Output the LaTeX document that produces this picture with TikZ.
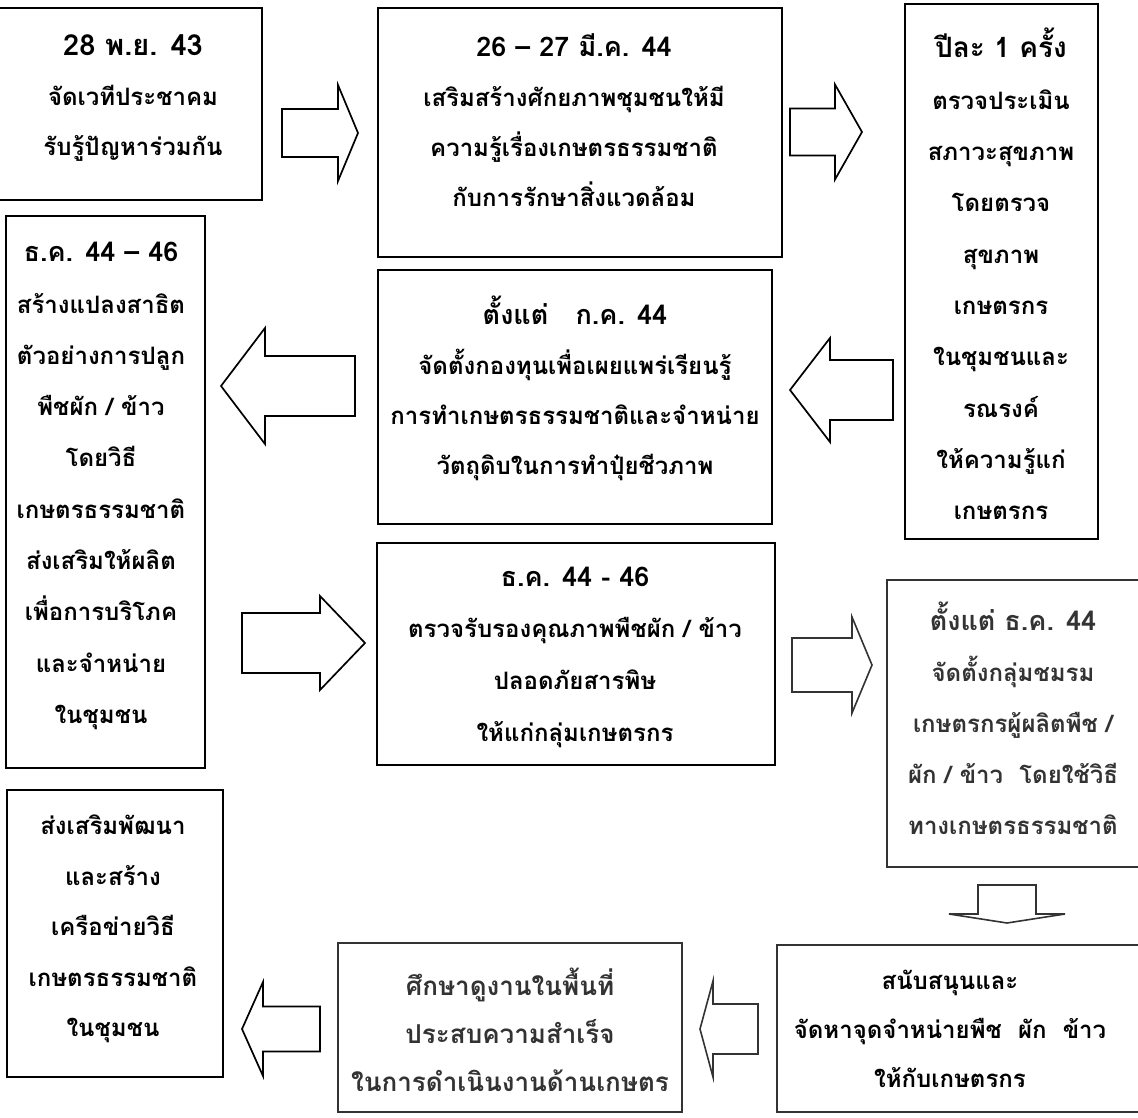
\documentclass[tikz,border=0pt]{standalone}
\usepackage{fontspec}
\newfontfamily\thai[Script=Thai]{Loma}
\definecolor{scangray}{gray}{0.2}
\tikzset{
  box/.style={draw, line width=2.4pt, inner sep=0pt},
  graybox/.style={draw=scangray, line width=2.2pt, inner sep=0pt},
  txt/.style={align=center, inner sep=0pt, font=\thai\bfseries\fontsize{24}{50}\selectfont},
  blk/.style={draw, line width=1.7pt, fill=white, line join=miter},
  grayblk/.style={draw=scangray, line width=1.6pt, fill=white},
}
\newcommand{\dt}[1]{{\bfseries\fontsize{27}{50}\selectfont #1}}
% horizontal block arrow: start x, head-base x, tip x, y, shaft half, head half
\newcommand{\harrow}[7]{%
  \draw[#7] (#1,#4-#5) -- (#2,#4-#5) -- (#2,#4-#6) -- (#3,#4) -- (#2,#4+#6) -- (#2,#4+#5) -- (#1,#4+#5) -- cycle;}
% vertical block arrow: start y, head-base y, tip y, x, shaft half, head half
\newcommand{\varrow}[7]{%
  \draw[#7] (#4-#5,#1) -- (#4-#5,#2) -- (#4-#6,#2) -- (#4,#3) -- (#4+#6,#2) -- (#4+#5,#2) -- (#4+#5,#1) -- cycle;}
\begin{document}
\begin{tikzpicture}[x=1pt,y=-1pt]
\useasboundingbox (0,0) rectangle (1138,1118);
\clip (0,0) rectangle (1138,1118);
\fill[white] (0,0) rectangle (1138,1118);

% boxes
\node[box, minimum width=267pt, minimum height=192pt] (b1) at (128.5,104) {};
\node[box, minimum width=404pt, minimum height=249pt] (b2) at (580,132.5) {};
\node[box, minimum width=193pt, minimum height=535pt] (b3) at (1001.5,271.5) {};
\node[box, minimum width=199pt, minimum height=552pt] (b4) at (105.5,492) {};
\node[box, minimum width=394pt, minimum height=254pt] (b5) at (575,397) {};
\node[box, minimum width=398pt, minimum height=222pt] (b6) at (576,654) {};
\node[graybox, minimum width=258pt, minimum height=287pt] (b7) at (1016,723.5) {};
\node[box, minimum width=216pt, minimum height=287pt] (b8) at (115,933.5) {};
\node[graybox, minimum width=344pt, minimum height=169pt] (b9) at (510,1027.5) {};
\node[graybox, minimum width=368pt, minimum height=167pt] (b10) at (961,1028.5) {};

% texts
\node[txt] (t1) at (133,98) {{\bfseries\fontsize{29}{50}\selectfont 28 พ.ย. 43}\\จัดเวทีประชาคม\\รับรู้ปัญหาร่วมกัน};
\node[txt] (t2) at (574,120) {\dt{26 – 27 มี.ค. 44}\\เสริมสร้างศักยภาพชุมชนให้มี\\ความรู้เรื่องเกษตรธรรมชาติ\\กับการรักษาสิ่งแวดล้อม};
\node[txt, font=\thai\bfseries\fontsize{24}{51.3}\selectfont] (t3) at (1001,274) {{\bfseries\fontsize{28}{50}\selectfont ปีละ 1 ครั้ง}\\ตรวจประเมิน\\สภาวะสุขภาพ\\โดยตรวจ\\สุขภาพ\\เกษตรกร\\ในชุมชนและ\\รณรงค์\\ให้ความรู้แก่\\เกษตรกร};
\node[txt, font=\thai\bfseries\fontsize{24}{51.3}\selectfont] (t4) at (101,486) {\dt{ธ.ค. 44 – 46}\\สร้างแปลงสาธิต\\ตัวอย่างการปลูก\\พืชผัก / ข้าว\\โดยวิธี\\เกษตรธรรมชาติ\\ส่งเสริมให้ผลิต\\เพื่อการบริโภค\\และจำหน่าย\\ในชุมชน};
\node[txt] (t5) at (575,388) {\dt{ตั้งแต่~~~ก.ค. 44}\\จัดตั้งกองทุนเพื่อเผยแพร่เรียนรู้\\การทำเกษตรธรรมชาติและจำหน่าย\\วัตถุดิบในการทำปุ๋ยชีวภาพ};
\node[txt, font=\thai\bfseries\fontsize{24}{51.7}\selectfont] (t6) at (575,657) {\dt{ธ.ค. 44 - 46}\\ตรวจรับรองคุณภาพพืชผัก / ข้าว\\ปลอดภัยสารพิษ\\ให้แก่กลุ่มเกษตรกร};
\node[txt, text=scangray, font=\thai\bfseries\fontsize{24}{51}\selectfont] (t7) at (1013,718) {\dt{ตั้งแต่ ธ.ค. 44}\\จัดตั้งกลุ่มชมรม\\เกษตรกรผู้ผลิตพืช /\\ผัก / ข้าว~~โดยใช้วิธี\\ทางเกษตรธรรมชาติ};
\node[txt, font=\thai\bfseries\fontsize{24}{50.5}\selectfont] (t8) at (113,929) {ส่งเสริมพัฒนา\\และสร้าง\\เครือข่ายวิธี\\เกษตรธรรมชาติ\\ในชุมชน};
\node[txt, text=scangray, font=\thai\bfseries\fontsize{26}{48}\selectfont] (t9) at (510,1030) {ศึกษาดูงานในพื้นที่\\ประสบความสำเร็จ\\ในการดำเนินงานด้านเกษตร};
\node[txt, font=\thai\bfseries\fontsize{24}{49}\selectfont] (t10) at (950,1029) {สนับสนุนและ\\จัดหาจุดจำหน่ายพืช~~ผัก~~ข้าว\\ให้กับเกษตรกร};

% block arrows (connectors between boxes)
\harrow{282}{338}{358}{133}{24}{48}{blk}     % b1 -> b2
\harrow{790}{835}{862}{132}{23.5}{47.5}{blk} % b2 -> b3
\harrow{893}{830}{790}{390}{30}{52}{blk}     % b3 -> b5
\harrow{355}{265}{221}{386}{30}{58}{blk}     % b5 -> b4
\harrow{242}{320}{365}{643}{30}{47}{blk}     % b4 -> b6
\harrow{792}{852}{872}{665}{27}{48}{grayblk} % b6 -> b7
\varrow{885}{914}{923}{1007}{29}{58}{grayblk} % b7 -> b10
\harrow{758}{713}{700}{1029}{25}{48}{grayblk} % b10 -> b9
\harrow{320}{263}{242}{1029}{22.5}{47}{blk}  % b9 -> b8
\end{tikzpicture}
\end{document}
